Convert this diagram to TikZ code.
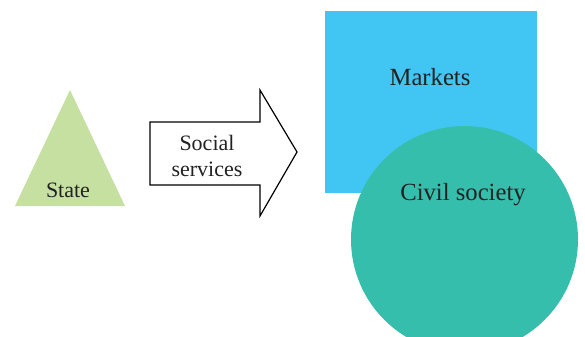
\documentclass[tikz,border=0pt]{standalone}
\usepackage{fontspec}
\setmainfont{Liberation Serif}
\definecolor{stategreen}{HTML}{C5E0A0}
\definecolor{marketblue}{HTML}{41C6F3}
\definecolor{civilteal}{HTML}{36BEAD}
\definecolor{labeltext}{HTML}{222222}

\begin{document}
\begin{tikzpicture}[x=0.75pt,y=-0.75pt]
				\tikzstyle{every node} = [text=labeltext,inner sep=0pt];
				\tikzstyle{biglabel} = [font=\fontsize{18.5}{22}\selectfont];
				\tikzstyle{smalllabel} = [font=\fontsize{16.5}{19}\selectfont,align=center];
				\useasboundingbox (0,0) rectangle (585,336);
				\fill[stategreen] (15,206) -- (70,90) -- (125,206) -- cycle;
				\draw[line width=0.9pt,fill=white] (150,122) -- (260,122) -- (260,90) -- (297,152) -- (260,216) -- (260,185) -- (150,185) -- cycle;
				\fill[marketblue] (325,11) rectangle (537,193);
				\begin{scope}
					\clip (0,0) rectangle (585,336);
					\fill[civilteal] (464.5,239.5) circle (113.5);
				\end{scope}
				\node[smalllabel] (state) at (68,190) {State};
				\node[smalllabel] (services) at (207,156) {Social\\services};
				\node[biglabel] (markets) at (430,77) {Markets};
				\node[biglabel] (civil) at (463,195) {Civil society};
			\end{tikzpicture}
\end{document}
